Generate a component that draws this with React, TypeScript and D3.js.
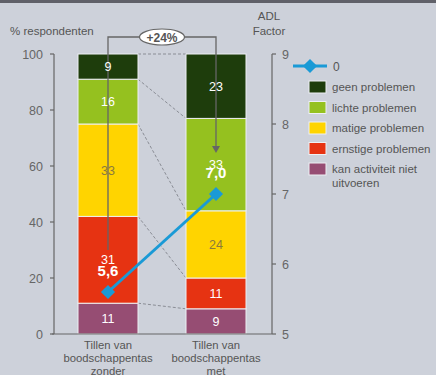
import React from "react";
import * as d3 from "d3";

const categories = ["zonder", "met"];
const categoryLines = [
  ["Tillen van", "boodschappentas", "zonder"],
  ["Tillen van", "boodschappentas", "met"],
];
const seriesNames = [
  "kan activiteit niet uitvoeren",
  "ernstige problemen",
  "matige problemen",
  "lichte problemen",
  "geen problemen",
];
const seriesColors = ["#964d73", "#e63312", "#ffd400", "#95c11f", "#1e3d0c"];
const labelColors = ["#ffffff", "#ffffff", "#8c7a3c", "#ffffff", "#ffffff"];
// percentages per category, bottom to top
const kanNiet = [11, 9];
const ernstig = [31, 11];
const matig = [33, 24];
const licht = [16, 33];
const geen = [9, 23];
const adlFactor = [5.6, 7.0];
const adlLabels = ["5,6", "7,0"];
const leftTicks = [0, 20, 40, 60, 80, 100];
const rightTicks = [5, 6, 7, 8, 9];
const changeLabel = "+24%";

const legendItems = [
  { name: "geen problemen", color: seriesColors[4] },
  { name: "lichte problemen", color: seriesColors[3] },
  { name: "matige problemen", color: seriesColors[2] },
  { name: "ernstige problemen", color: seriesColors[1] },
  { name: "kan activiteit niet", name2: "uitvoeren", color: seriesColors[0] },
];

const FONT = "Arial, 'Liberation Sans', sans-serif";

export default function App() {
  const W = 436;
  const H = 375;
  const plotLeft = 54;
  const plotRight = 272;
  const y = d3.scaleLinear().domain([0, 100]).range([334, 54]);
  const yR = d3.scaleLinear().domain([5, 9]).range([334, 54]);
  const x = d3.scalePoint().domain(categories).range([54, 270]).padding(0.5);
  const bw = 60;
  const cx = (c: string) => x(c) as number;

  const rows = categories.map((c, i) => ({
    cat: c,
    vals: [kanNiet[i], ernstig[i], matig[i], licht[i], geen[i]],
  }));
  const stacked = rows.map((r) => {
    let acc = 0;
    return r.vals.map((v, k) => {
      const y0 = acc;
      acc += v;
      return { k, v, y0, y1: acc };
    });
  });

  const line = d3
    .line<number>()
    .x((_, i) => cx(categories[i]))
    .y((d) => yR(d));

  const c0 = cx(categories[0]);
  const c1 = cx(categories[1]);
  const bracketY = 37;

  return (
    <svg
      width={W}
      height={H}
      style={{ position: "absolute", left: 0, top: 0, fontFamily: FONT }}
    >
      <rect x={0} y={0} width={W} height={H} fill="#cdd1da" />
      <rect x={0} y={0} width={W} height={3} fill="#606169" />

      {/* axis titles */}
      <text x={10} y={35} fontSize={11.5} fill="#555">% respondenten</text>
      <text x={269} y={20} fontSize={11.5} fill="#555" textAnchor="middle">ADL</text>
      <text x={269} y={35} fontSize={11.5} fill="#555" textAnchor="middle">Factor</text>

      {/* dashed connectors between stacks */}
      {stacked[0].map((s, k) => {
        const t = stacked[1][k];
        return (
          <line
            key={"c" + k}
            x1={c0 + bw / 2}
            x2={c1 - bw / 2}
            y1={y(s.y1)}
            y2={y(t.y1)}
            stroke="#8a8d95"
            strokeWidth={1}
            strokeDasharray="3,2"
          />
        );
      })}

      {/* stacked bars */}
      {stacked.map((segs, i) =>
        segs.map((s) => (
          <rect
            key={i + "-" + s.k}
            x={cx(categories[i]) - bw / 2}
            y={y(s.y1)}
            width={bw}
            height={y(s.y0) - y(s.y1)}
            fill={seriesColors[s.k]}
            stroke="#eef0f3"
            strokeWidth={1}
          />
        ))
      )}

      {/* change bracket */}
      <path
        d={`M${c0},250 V${bracketY} H${c1} V147`}
        fill="none"
        stroke="#666"
        strokeWidth={1.3}
      />
      <path d={`M${c1 - 4},146 L${c1 + 4},146 L${c1},153 Z`} fill="#666" />
      <ellipse cx={(c0 + c1) / 2} cy={bracketY} rx={22.5} ry={8} fill="#fff" stroke="#666" strokeWidth={1.2} />
      <text
        x={(c0 + c1) / 2}
        y={bracketY + 4.5}
        fontSize={12}
        fontWeight="bold"
        fill="#555"
        textAnchor="middle"
      >
        {changeLabel}
      </text>

      {/* segment values */}
      {stacked.map((segs, i) =>
        segs.map((s) => (
          <text
            key={"t" + i + "-" + s.k}
            x={cx(categories[i])}
            y={y((s.y0 + s.y1) / 2) + 4.5}
            fontSize={12.5}
            fill={labelColors[s.k]}
            textAnchor="middle"
          >
            {s.v}
          </text>
        ))
      )}

      {/* left axis */}
      <line x1={plotLeft} x2={plotLeft} y1={y(0)} y2={y(100)} stroke="#666" strokeWidth={1.2} />
      {leftTicks.map((t) => (
        <g key={"l" + t}>
          <line x1={plotLeft - 4} x2={plotLeft} y1={y(t)} y2={y(t)} stroke="#666" strokeWidth={1.2} />
          <text x={43} y={y(t) + 4.5} fontSize={12.5} fill="#666" textAnchor="end">
            {t}
          </text>
        </g>
      ))}

      {/* right axis */}
      <line x1={plotRight} x2={plotRight} y1={yR(5)} y2={yR(9)} stroke="#666" strokeWidth={1.2} />
      {rightTicks.map((t) => (
        <g key={"r" + t}>
          <line x1={plotRight} x2={plotRight + 4} y1={yR(t)} y2={yR(t)} stroke="#666" strokeWidth={1.2} />
          <text x={282} y={yR(t) + 4.5} fontSize={12.5} fill="#666">
            {t}
          </text>
        </g>
      ))}

      {/* baseline */}
      <line x1={plotLeft - 2} x2={plotRight} y1={y(0)} y2={y(0)} stroke="#666" strokeWidth={1.2} />

      {/* category labels */}
      {categories.map((c, i) => (
        <text key={"cat" + c} x={cx(c)} fontSize={11.3} fill="#555" textAnchor="middle">
          {categoryLines[i].map((ln, j) => (
            <tspan key={j} x={cx(c)} y={349 + j * 13.2}>
              {ln}
            </tspan>
          ))}
        </text>
      ))}

      {/* ADL line */}
      <path d={line(adlFactor) || ""} fill="none" stroke="#1a9ad6" strokeWidth={3} />
      {adlFactor.map((v, i) => (
        <rect
          key={"m" + i}
          x={cx(categories[i]) - 5}
          y={yR(v) - 5}
          width={10}
          height={10}
          fill="#1a9ad6"
          transform={`rotate(45 ${cx(categories[i])} ${yR(v)})`}
        />
      ))}
      {adlFactor.map((v, i) => (
        <text
          key={"a" + i}
          x={cx(categories[i])}
          y={yR(v) - 16}
          fontSize={15}
          fontWeight="bold"
          fill="#fff"
          textAnchor="middle"
        >
          {adlLabels[i]}
        </text>
      ))}

      {/* legend */}
      <line x1={293} x2={327} y1={66} y2={66} stroke="#1a9ad6" strokeWidth={3} />
      <rect x={305} y={61} width={10} height={10} fill="#1a9ad6" transform="rotate(45 310 66)" />
      <text x={333} y={70.5} fontSize={12} fill="#555">0</text>
      {legendItems.map((it, k) => {
        const ly = 87 + k * 20.5;
        return (
          <g key={"lg" + k}>
            <rect x={309} y={ly - 6} width={17} height={12} fill={it.color} stroke="#eef0f3" strokeWidth={1} />
            <text x={332} y={ly + 4} fontSize={11.5} fill="#555">
              {it.name}
            </text>
            {it.name2 && (
              <text x={332} y={ly + 18} fontSize={11.5} fill="#555">
                {it.name2}
              </text>
            )}
          </g>
        );
      })}
    </svg>
  );
}
